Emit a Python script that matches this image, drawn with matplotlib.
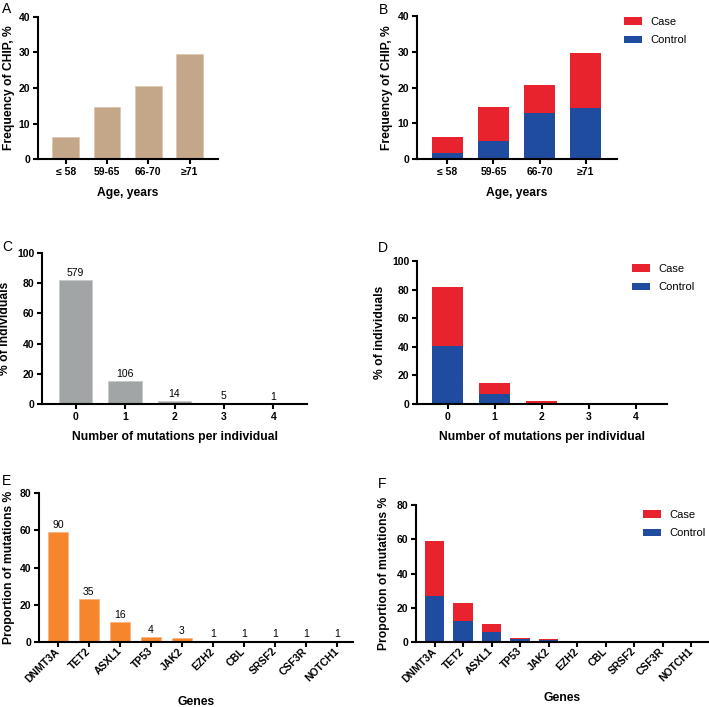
import matplotlib
matplotlib.use('Agg')
import matplotlib.pyplot as plt
from matplotlib.patches import Patch

plt.rcParams['font.family'] = ['Liberation Sans', 'DejaVu Sans']

# Data
age_groups = ['≤ 58', '59-65', '66-70', '≥71']
chip_freq = [6.2, 14.6, 20.7, 29.6]
chip_control = [1.6, 4.9, 12.8, 14.2]
chip_case = [4.6, 9.7, 7.9, 15.4]

n_mut = ['0', '1', '2', '3', '4']
n_mut_count = [579, 106, 14, 5, 1]
n_mut_pct = [82.1, 15.0, 2.0, 0.7, 0.14]
n_mut_control = [40.6, 6.8, 0.4, 0.2, 0.0]
n_mut_case = [41.5, 8.2, 1.6, 0.5, 0.14]

genes = ['DNMT3A', 'TET2', 'ASXL1', 'TP53', 'JAK2', 'EZH2', 'CBL', 'SRSF2', 'CSF3R', 'NOTCH1']
gene_count = [90, 35, 16, 4, 3, 1, 1, 1, 1, 1]
gene_pct = [58.8, 22.9, 10.5, 2.6, 2.0, 0.65, 0.65, 0.65, 0.65, 0.65]
gene_control = [26.9, 12.1, 6.0, 1.8, 1.3, 0.0, 0.0, 0.0, 0.0, 0.0]
gene_case = [31.9, 10.8, 4.5, 0.8, 0.7, 0.65, 0.65, 0.65, 0.65, 0.65]

RED = '#E8232D'
BLUE = '#1F4C9E'
TAN = '#C4A689'
GREY = '#A1A5A5'
ORANGE = '#F5862E'

W, H = 709, 707
fig = plt.figure(figsize=(W / 100, H / 100), dpi=100)


def px_axes(l, t, r, b):
    return fig.add_axes([l / W, 1 - b / H, (r - l) / W, (b - t) / H])


def style(ax, ylim, yticks, xlim, xlabel, ylabel, ylab_x, xlab_y, l, t, r, b):
    ax.set_ylim(*ylim)
    ax.set_yticks(yticks)
    ax.set_xlim(*xlim)
    for s in ['top', 'right']:
        ax.spines[s].set_visible(False)
    for s in ['left', 'bottom']:
        ax.spines[s].set_linewidth(1.5)
    ax.tick_params(direction='out', length=3.5, width=1.5, labelsize=7.5, pad=2)
    for lab in ax.get_xticklabels() + ax.get_yticklabels():
        lab.set_fontweight('bold')
    ax.set_xlabel(xlabel, fontsize=8.7, fontweight='bold')
    ax.set_ylabel(ylabel, fontsize=8.7, fontweight='bold')
    ax.yaxis.set_label_coords((ylab_x - l) / (r - l), 0.5)
    ax.xaxis.set_label_coords(0.5, (b - xlab_y) / (b - t))
    ax.xaxis.label.set_va('center')
    ax.yaxis.label.set_va('center')


def legend(ax, x, y):
    handles = [Patch(facecolor=RED, label='Case'), Patch(facecolor=BLUE, label='Control')]
    fig.legend(handles=handles, loc='upper left', bbox_to_anchor=(x / W, 1 - y / H),
               frameon=False, fontsize=8, handlelength=1.6, handleheight=0.7,
               handletextpad=0.8, labelspacing=0.75, borderaxespad=0, borderpad=0)


# Panel A
ax = px_axes(38, 17, 218, 159)
ax.bar(range(4), chip_freq, width=0.65, color=TAN, edgecolor='#D9C5B0', linewidth=0.5)
ax.set_xticks(range(4))
ax.set_xticklabels(age_groups)
style(ax, (0, 40), [0, 10, 20, 30, 40], (-0.67, 3.69), 'Age, years', 'Frequency of CHIP, %',
      9, 193, 38, 17, 218, 159)

# Panel B
ax = px_axes(417, 16, 617, 159)
ax.bar(range(4), chip_control, width=0.67, color=BLUE)
ax.bar(range(4), chip_case, bottom=chip_control, width=0.67, color=RED)
ax.set_xticks(range(4))
ax.set_xticklabels(age_groups)
style(ax, (0, 40), [0, 10, 20, 30, 40], (-0.66, 3.68), 'Age, years', 'Frequency of CHIP, %',
      387, 193, 417, 16, 617, 159)
legend(ax, 624, 17)

# Panel C
ax = px_axes(42, 253, 307, 404)
bars = ax.bar(range(5), n_mut_pct, width=0.68, color=GREY, edgecolor='#C4C7C7', linewidth=0.5)
ax.bar_label(bars, labels=[str(c) for c in n_mut_count], padding=1.5, fontsize=7.5)
ax.set_xticks(range(5))
ax.set_xticklabels(n_mut)
style(ax, (0, 100), [0, 20, 40, 60, 80, 100], (-0.68, 4.68), 'Number of mutations per individual',
      '% of individuals', 5, 437, 42, 253, 307, 404)

# Panel D
ax = px_axes(417, 261, 667, 404)
ax.bar(range(5), n_mut_control, width=0.66, color=BLUE)
ax.bar(range(5), n_mut_case, bottom=n_mut_control, width=0.66, color=RED)
ax.set_xticks(range(5))
ax.set_xticklabels(n_mut)
style(ax, (0, 100), [0, 20, 40, 60, 80, 100], (-0.65, 4.67), 'Number of mutations per individual',
      '% of individuals', 380, 437, 417, 261, 667, 404)
legend(ax, 632, 264)

# Panel E
ax = px_axes(39, 493, 353, 642)
bars = ax.bar(range(10), gene_pct, width=0.65, color=ORANGE, edgecolor='#F9B27A', linewidth=0.5)
ax.bar_label(bars, labels=[str(c) for c in gene_count], padding=1.5, fontsize=7.5)
ax.set_xticks(range(10))
ax.set_xticklabels(genes, rotation=45, ha='right', va='center', rotation_mode='anchor')
style(ax, (0, 80), [0, 20, 40, 60, 80], (-0.61, 9.52), 'Genes', 'Proportion of mutations %',
      9, 702, 39, 493, 353, 642)

# Panel F
ax = px_axes(416, 505, 709, 642)
ax.bar(range(10), gene_control, width=0.67, color=BLUE)
ax.bar(range(10), gene_case, bottom=gene_control, width=0.67, color=RED)
ax.set_xticks(range(10))
ax.set_xticklabels(genes, rotation=45, ha='right', va='center', rotation_mode='anchor')
style(ax, (0, 80), [0, 20, 40, 60, 80], (-0.65, 9.63), 'Genes', 'Proportion of mutations %',
      384, 698, 416, 505, 709, 642)
legend(ax, 643, 510)

# Panel letters
for letter, x, y in [('A', 2, 2), ('B', 379, 3), ('C', 2, 240), ('D', 378, 241),
                     ('E', 2, 474), ('F', 378, 477)]:
    fig.text(x / W, 1 - y / H, letter, fontsize=10, va='top', ha='left')

fig.savefig('out.png', dpi=100)
